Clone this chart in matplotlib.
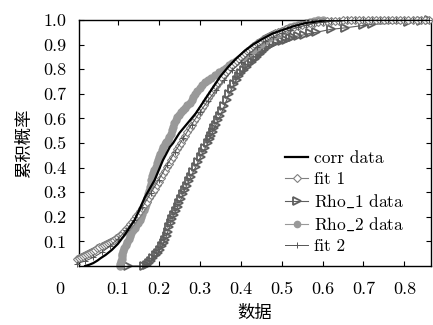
import numpy as np
import matplotlib
matplotlib.use("Agg")
import matplotlib.pyplot as plt
from matplotlib import transforms

plt.rcParams['font.family'] = ['cmr10', 'Noto Sans CJK SC', 'DejaVu Serif']
plt.rcParams['axes.unicode_minus'] = False
plt.rcParams['mathtext.fontset'] = 'cm'

# empirical CDF of the correlation data
corr_x = [0.02, 0.03, 0.04, 0.05, 0.058, 0.07, 0.085, 0.10, 0.107, 0.12, 0.13, 0.141,
          0.15, 0.158, 0.166, 0.178, 0.19, 0.20, 0.21, 0.218, 0.227, 0.235, 0.25, 0.27,
          0.29, 0.31, 0.33, 0.35, 0.37, 0.39, 0.41, 0.43, 0.45, 0.478, 0.50, 0.53,
          0.56, 0.60, 0.63, 0.86]
corr_y = [0.0, 0.005, 0.012, 0.022, 0.032, 0.045, 0.065, 0.09, 0.105, 0.135, 0.16, 0.187,
          0.22, 0.25, 0.28, 0.315, 0.35, 0.39, 0.43, 0.455, 0.484, 0.50, 0.54, 0.58,
          0.62, 0.67, 0.72, 0.77, 0.81, 0.845, 0.875, 0.90, 0.92, 0.945, 0.958, 0.975,
          0.988, 0.997, 1.0, 1.0]

# first fitted CDF: 0.005 grid up to 0.5, then 0.01 grid
fit1_x = np.round(np.concatenate([np.arange(0, 0.5001, 0.005),
                                  np.arange(0.51, 0.8601, 0.01)]), 3)
fit1_y = [0.030, 0.033, 0.037, 0.041, 0.045, 0.049, 0.053, 0.057, 0.062, 0.067,
          0.072, 0.076, 0.080, 0.084, 0.088, 0.092, 0.097, 0.101, 0.106, 0.112,
          0.118, 0.125, 0.132, 0.141, 0.150, 0.160, 0.170, 0.180, 0.191, 0.202,
          0.213, 0.225, 0.237, 0.249, 0.262, 0.275, 0.288, 0.301, 0.315, 0.329,
          0.343, 0.357, 0.372, 0.386, 0.401, 0.415, 0.430, 0.445, 0.459, 0.474,
          0.488, 0.502, 0.516, 0.530, 0.545, 0.560, 0.575, 0.589, 0.603, 0.617,
          0.630, 0.643, 0.656, 0.669, 0.682, 0.695, 0.707, 0.719, 0.731, 0.743,
          0.754, 0.765, 0.776, 0.787, 0.797, 0.807, 0.816, 0.825, 0.834, 0.843,
          0.851, 0.859, 0.866, 0.873, 0.880, 0.887, 0.893, 0.899, 0.905, 0.911,
          0.916, 0.921, 0.926, 0.931, 0.935, 0.939, 0.943, 0.947, 0.950, 0.953,
          0.956,
          0.962, 0.967, 0.972, 0.976, 0.980, 0.983, 0.986, 0.988, 0.990, 0.992,
          0.994, 0.995, 0.996, 0.997, 0.998, 0.999,
          1.0, 1.0, 1.0, 1.0, 1.0, 1.0, 1.0, 1.0, 1.0, 1.0,
          1.0, 1.0, 1.0, 1.0, 1.0, 1.0, 1.0, 1.0, 1.0, 1.0]

# Rho_1 empirical CDF
rho1_x = [0.125, 0.165, 0.170, 0.175, 0.181, 0.187, 0.193, 0.198, 0.203, 0.208,
          0.212, 0.215, 0.219, 0.222, 0.226, 0.229, 0.233, 0.237, 0.242, 0.246,
          0.250, 0.255, 0.259, 0.263, 0.268, 0.273, 0.278, 0.284, 0.290, 0.296,
          0.302, 0.308, 0.314, 0.320, 0.324, 0.328, 0.332, 0.336, 0.340, 0.345,
          0.350, 0.355, 0.360, 0.366, 0.372, 0.378, 0.384, 0.390, 0.396, 0.402,
          0.409, 0.415, 0.421, 0.427, 0.434, 0.440, 0.446, 0.452, 0.458, 0.463,
          0.470, 0.478, 0.488, 0.500, 0.510, 0.520, 0.527, 0.540, 0.555, 0.570,
          0.585, 0.620, 0.655, 0.700, 0.720, 0.810, 0.840, 0.860]
rho1_y = [0.000, 0.000, 0.006, 0.012, 0.022, 0.032, 0.043, 0.053, 0.067, 0.080,
          0.093, 0.106, 0.123, 0.140, 0.158, 0.175, 0.191, 0.207, 0.224, 0.240,
          0.257, 0.274, 0.292, 0.309, 0.327, 0.344, 0.362, 0.382, 0.402, 0.423,
          0.443, 0.462, 0.481, 0.500, 0.515, 0.530, 0.545, 0.560, 0.575, 0.595,
          0.610, 0.630, 0.650, 0.675, 0.700, 0.720, 0.740, 0.758, 0.772, 0.785,
          0.798, 0.810, 0.820, 0.830, 0.840, 0.850, 0.860, 0.870, 0.880, 0.888,
          0.896, 0.904, 0.910, 0.915, 0.920, 0.926, 0.930, 0.935, 0.940, 0.946,
          0.950, 0.962, 0.968, 0.978, 0.982, 0.990, 0.995, 1.000]

# Rho_2 empirical CDF
rho2_x = [0.104, 0.106, 0.108, 0.109, 0.110, 0.111, 0.112, 0.115, 0.119, 0.123,
          0.127, 0.130, 0.133, 0.137, 0.141, 0.145, 0.150, 0.154, 0.157, 0.160,
          0.163, 0.166, 0.168, 0.170, 0.172, 0.174, 0.176, 0.178, 0.180, 0.182,
          0.184, 0.186, 0.189, 0.192, 0.195, 0.198, 0.201, 0.204, 0.207, 0.210,
          0.214, 0.218, 0.222, 0.226, 0.229, 0.232, 0.235, 0.238, 0.241, 0.244,
          0.249, 0.254, 0.259, 0.265, 0.270, 0.276, 0.280, 0.284, 0.288, 0.294,
          0.300, 0.305, 0.312, 0.320, 0.328, 0.337, 0.346, 0.356, 0.364, 0.372,
          0.380, 0.388, 0.396, 0.405, 0.413, 0.422, 0.430, 0.440, 0.450, 0.460,
          0.470, 0.480, 0.490, 0.500, 0.510, 0.520, 0.530, 0.540, 0.550, 0.560,
          0.570, 0.580, 0.590, 0.600]
rho2_y = [0.000, 0.010, 0.020, 0.030, 0.040, 0.050, 0.062, 0.074, 0.086, 0.098,
          0.110, 0.122, 0.134, 0.145, 0.155, 0.165, 0.176, 0.187, 0.200, 0.213,
          0.226, 0.240, 0.252, 0.265, 0.278, 0.292, 0.306, 0.320, 0.335, 0.350,
          0.365, 0.378, 0.391, 0.404, 0.417, 0.430, 0.444, 0.457, 0.470, 0.484,
          0.494, 0.503, 0.512, 0.524, 0.538, 0.552, 0.566, 0.580, 0.593, 0.606,
          0.615, 0.624, 0.634, 0.644, 0.653, 0.663, 0.675, 0.688, 0.700, 0.712,
          0.724, 0.736, 0.746, 0.756, 0.766, 0.776, 0.787, 0.797, 0.806, 0.816,
          0.825, 0.833, 0.842, 0.850, 0.860, 0.870, 0.880, 0.892, 0.904, 0.915,
          0.925, 0.935, 0.945, 0.954, 0.962, 0.970, 0.976, 0.981, 0.985, 0.989,
          0.992, 0.995, 0.998, 1.000]

# second fitted CDF, evaluated on a 0.02 grid
fit2_x = np.round(np.arange(0, 0.865, 0.02), 2)
fit2_y = [0.010, 0.020, 0.035, 0.055, 0.080, 0.110, 0.145, 0.188, 0.240, 0.295,
          0.350, 0.410, 0.465, 0.520, 0.575, 0.625, 0.672, 0.716, 0.758, 0.796,
          0.830, 0.862, 0.890, 0.913, 0.932, 0.947, 0.960, 0.970, 0.979, 0.986,
          0.991, 0.994, 0.996, 0.998, 0.999, 1.0, 1.0, 1.0, 1.0, 1.0,
          1.0, 1.0, 1.0, 1.0]

x_ticks = [0.1, 0.2, 0.3, 0.4, 0.5, 0.6, 0.7, 0.8]
y_ticks = [0.1, 0.2, 0.3, 0.4, 0.5, 0.6, 0.7, 0.8, 0.9, 1.0]

fig = plt.figure(figsize=(4.33, 3.25), dpi=100)
ax = fig.add_axes([79 / 433, 1 - 266 / 325, 352 / 433, 246 / 325])

ax.plot(fit1_x, fit1_y, color='#808080', lw=0.8, marker='D', ms=4.0,
        mfc='white', mec='#808080', mew=0.8, label='fit 1', zorder=3, clip_on=False)
ax.plot(rho1_x, rho1_y, color='#5e5e5e', lw=0.8, marker='>', ms=6,
        mfc='none', mec='#5e5e5e', mew=1.3, label=r'Rho$\_$1 data', zorder=2,
        clip_on=False)
ax.plot(rho2_x, rho2_y, color='#999999', lw=0.8, marker='o', ms=5,
        mfc='#999999', mec='#999999', label=r'Rho$\_$2 data', zorder=2, clip_on=False)
ax.plot(fit2_x, fit2_y, color='#555555', lw=0.7, marker='+', ms=5, mew=0.7,
        label='fit 2', zorder=4, clip_on=False)
ax.plot(corr_x, corr_y, color='black', lw=1.6, label='corr data', zorder=5)

ax.set_xlim(0.005, 0.865)
ax.set_ylim(0, 1.0)
ax.set_xticks(x_ticks)
ax.set_xticklabels([f'{v:.1f}' for v in x_ticks])
ax.set_yticks(y_ticks)
ax.set_yticklabels([f'{v:.1f}' for v in y_ticks])
ax.tick_params(direction='in', top=True, right=True, length=3.5, width=0.8,
               labelsize=13)
ax.tick_params(axis='x', pad=11)
ax.tick_params(axis='y', pad=9)
for s in ax.spines.values():
    s.set_linewidth(1.0)

# origin label sits to the left of the corner
trans = transforms.offset_copy(ax.transAxes, fig=fig, x=-19, y=-16, units='dots')
ax.text(0, 0, '0', transform=trans, ha='center', va='top', fontsize=13)

ax.set_xlabel('数据', fontsize=12.5, labelpad=6)
ax.set_ylabel('累积概率', fontsize=12.5, labelpad=8)

handles, labels = ax.get_legend_handles_labels()
order = ['corr data', 'fit 1', r'Rho$\_$1 data', r'Rho$\_$2 data', 'fit 2']
hmap = dict(zip(labels, handles))
leg = ax.legend([hmap[k] for k in order], order, loc='upper left',
                bbox_to_anchor=(0.585, 0.47), frameon=False, fontsize=12.5,
                handlelength=1.35, handletextpad=0.3, labelspacing=0.33,
                borderpad=0, borderaxespad=0, markerscale=0.9)

fig.savefig('out.png', dpi=100)
